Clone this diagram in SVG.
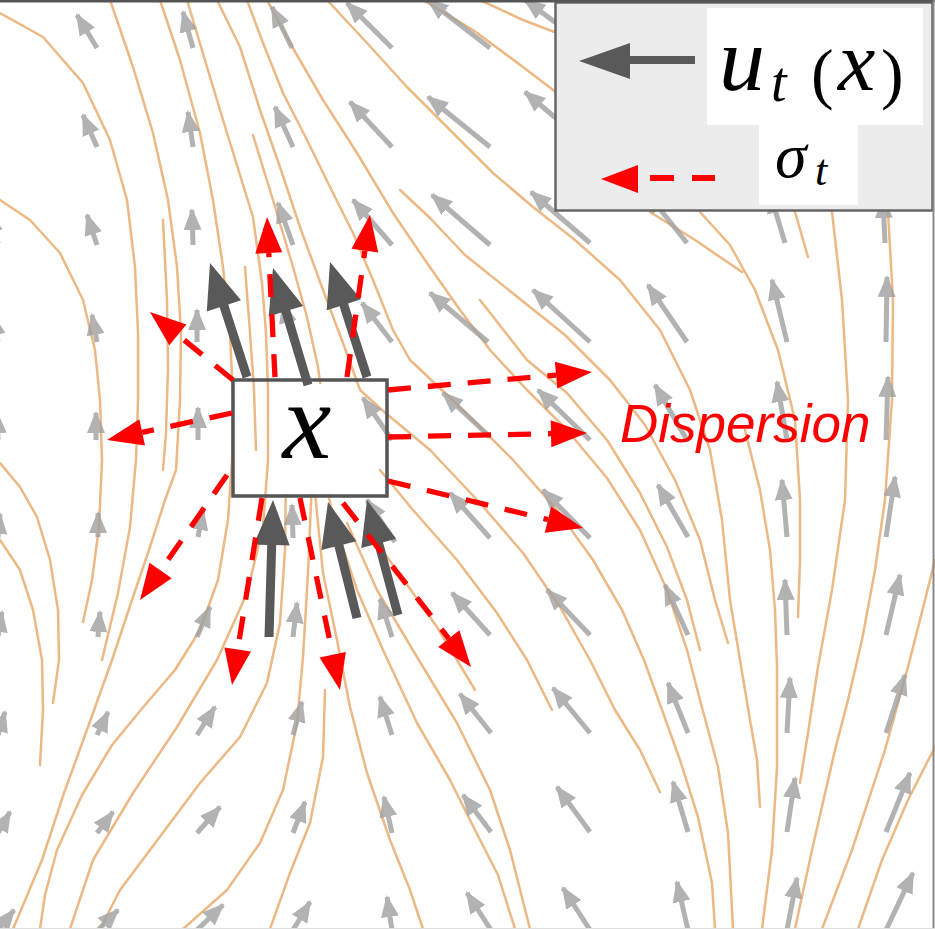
<svg xmlns="http://www.w3.org/2000/svg" width="935" height="929" viewBox="0 0 935 929">
<style>
.sl{fill:none;stroke:#ecb985;stroke-width:2.5;stroke-linejoin:round;stroke-linecap:round}
.q{stroke:#a0a0a0;stroke-width:5;marker-end:url(#qh)}
.rd{fill:none;stroke:#ff0000;stroke-width:5.3;stroke-dasharray:23 17}
.rh{fill:#ff0000}
.dk{fill:#595959}
.mth{font-family:"Liberation Serif","DejaVu Serif",serif;fill:#000}
</style>
<defs>
<marker id="qh" viewBox="0 -10 22 20" refX="20" refY="0" markerWidth="22" markerHeight="20" markerUnits="userSpaceOnUse" orient="auto">
<path d="M0,-9 L22,0 L0,9 Z" fill="#a0a0a0"/>
</marker>
</defs>
<rect x="0" y="0" width="935" height="929" fill="#ffffff"/>

<g id="streamlines" class="sl">
<polyline points="0,13 43,37 83,83 110,140 127,200 135,267 138,333 138,400 136,460 130,527 118,593 102,660"/>
<polyline points="0,200 30,220 60,253 83,300 95,350 100,400 102,460 99,527 92,580 83,622"/>
<polyline points="110,0 133,67 153,133 168,200 177,267 181,333 180,400 176,470 165,500 150,547 132,600 112,660 88,727 64,793 42,860 13,929"/>
<polyline points="163,220 167,300 168,367 166,433 163,470"/>
<polyline points="160,0 180,60 200,133 213,200 223,267 230,333 233,400 232,460 228,520 218,580 200,630 175,670 145,705 112,745 82,795 57,850 45,895 40,929"/>
<polyline points="187,0 207,67 227,133 240,175 253,217 262,283 266,333 268,390 268,460 263,527 247,593 217,660 177,727 133,793 93,860 70,929"/>
<polyline points="286,470 285,550 280,623 267,683 240,737 200,783 150,850 120,890 100,929"/>
<polyline points="0,463 20,487 37,517 50,560 58,610 59,660 53,703"/>
<polyline points="0,540 20,570 33,610 42,660 43,710 40,765"/>
<polyline points="245,267 250,333 254,390 256,450"/>
<polyline points="217,0 240,47 260,110 280,167 300,227 323,290 343,343 360,390 382,410 430,450 480,503 523,553 560,607 590,660 615,710 640,750 660,792"/>
<polyline points="253,135 273,200 293,267 307,317 318,367 325,420 327,490 337,530 357,590 383,650 417,723 450,780 475,830 498,875 515,929"/>
<polyline points="247,0 263,43 283,93 307,140 330,187 353,233 373,280 393,330 410,360 463,410 513,460 557,510 593,560 622,610 644,660 662,710 680,760 698,817 712,883 715,929"/>
<polyline points="267,0 290,43 323,100 357,153 393,213 427,263 460,310 490,350 527,390 567,430 607,478 640,530 667,590 687,650 700,700 718,767 728,833 733,929"/>
<polyline points="327,0 367,43 407,87 447,127 493,173 533,207 575,240 620,280 660,330 690,390 710,450 722,520 730,600 740,660 750,720 757,760 760,807"/>
<polyline points="400,190 430,218 465,255 515,295 565,335 610,380 645,425 675,480 700,540 715,600 728,643"/>
<polyline points="480,300 527,360 567,393 607,440 640,493 667,547 687,600 700,650"/>
<polyline points="700,212 730,245 755,290 778,350 795,420 800,500 800,560 798,617"/>
<polyline points="650,212 695,240 742,272"/>
<polyline points="795,212 808,257"/>
<polyline points="832,212 842,300 848,400 845,500 832,590 818,667 808,733 800,783"/>
<polyline points="888,212 893,300 892,400 885,500 875,570 862,640 848,700 835,750 812,850 795,929"/>
<polyline points="935,560 925,600 908,667 885,750 852,850 822,929"/>
<polyline points="935,747 908,800 882,860 858,929"/>
<polyline points="745,430 760,490 770,550 775,610 777,667 777,767 772,850 762,929"/>
<polyline points="312,480 308,573 303,657 297,723 283,790 260,843 227,890 183,929"/>
<polyline points="325,690 323,757 310,823 290,873 270,929"/>
<polyline points="314,480 316,503 323,573 337,640 350,707 367,773 390,840 410,890 423,929"/>
<polyline points="347,523 377,590 417,657 457,723 490,790 510,850 530,929"/>
<polyline points="380,547 413,593 437,627 457,660 475,690"/>
<polyline points="380,470 413,510 457,560 497,613 527,660 552,710"/>
<polyline points="423,0 473,30 523,67 557,93"/>
<polyline points="480,0 523,20 557,33"/>
</g>

<g id="quiver" opacity="0.8">
<line class="q" x1="97" y1="48" x2="77" y2="15"/>
<line class="q" x1="193" y1="48" x2="183" y2="12"/>
<line class="q" x1="292" y1="48" x2="272" y2="7"/>
<line class="q" x1="392" y1="48" x2="347" y2="3"/>
<line class="q" x1="490" y1="48" x2="428" y2="0"/>
<line class="q" x1="590" y1="48" x2="525" y2="0"/>
<line class="q" x1="97" y1="147" x2="83" y2="115"/>
<line class="q" x1="193" y1="147" x2="188" y2="112"/>
<line class="q" x1="293" y1="147" x2="275" y2="107"/>
<line class="q" x1="392" y1="147" x2="350" y2="102"/>
<line class="q" x1="490" y1="147" x2="428" y2="97"/>
<line class="q" x1="590" y1="147" x2="525" y2="92"/>
<line class="q" x1="-2" y1="243" x2="-12" y2="213"/>
<line class="q" x1="97" y1="245" x2="87" y2="215"/>
<line class="q" x1="193" y1="245" x2="192" y2="210"/>
<line class="q" x1="293" y1="245" x2="278" y2="203"/>
<line class="q" x1="392" y1="245" x2="353" y2="200"/>
<line class="q" x1="490" y1="245" x2="432" y2="195"/>
<line class="q" x1="590" y1="243" x2="531" y2="192"/>
<line class="q" x1="687" y1="243" x2="647" y2="193"/>
<line class="q" x1="785" y1="243" x2="770" y2="193"/>
<line class="q" x1="885" y1="243" x2="883" y2="198"/>
<line class="q" x1="-2" y1="342" x2="-7" y2="315"/>
<line class="q" x1="97" y1="342" x2="92" y2="315"/>
<line class="q" x1="197" y1="342" x2="197" y2="310"/>
<line class="q" x1="293" y1="342" x2="283" y2="303"/>
<line class="q" x1="392" y1="342" x2="362" y2="303"/>
<line class="q" x1="488" y1="342" x2="430" y2="293"/>
<line class="q" x1="590" y1="342" x2="533" y2="290"/>
<line class="q" x1="687" y1="342" x2="648" y2="285"/>
<line class="q" x1="787" y1="342" x2="772" y2="280"/>
<line class="q" x1="886" y1="342" x2="887" y2="277"/>
<line class="q" x1="-2" y1="440" x2="-3" y2="413"/>
<line class="q" x1="96" y1="440" x2="96" y2="413"/>
<line class="q" x1="198" y1="440" x2="198" y2="408"/>
<line class="q" x1="293" y1="440" x2="288" y2="403"/>
<line class="q" x1="392" y1="440" x2="363" y2="398"/>
<line class="q" x1="490" y1="437" x2="443" y2="393"/>
<line class="q" x1="590" y1="440" x2="538" y2="390"/>
<line class="q" x1="687" y1="440" x2="655" y2="385"/>
<line class="q" x1="787" y1="440" x2="777" y2="382"/>
<line class="q" x1="886" y1="440" x2="888" y2="377"/>
<line class="q" x1="-2" y1="538" x2="0" y2="514"/>
<line class="q" x1="98" y1="537" x2="98" y2="513"/>
<line class="q" x1="198" y1="537" x2="203" y2="510"/>
<line class="q" x1="293" y1="538" x2="292" y2="505"/>
<line class="q" x1="395" y1="542" x2="367" y2="500"/>
<line class="q" x1="490" y1="538" x2="450" y2="493"/>
<line class="q" x1="590" y1="538" x2="543" y2="490"/>
<line class="q" x1="688" y1="537" x2="658" y2="485"/>
<line class="q" x1="787" y1="537" x2="782" y2="480"/>
<line class="q" x1="886" y1="537" x2="895" y2="477"/>
<line class="q" x1="-2" y1="636" x2="2" y2="612"/>
<line class="q" x1="98" y1="637" x2="100" y2="612"/>
<line class="q" x1="197" y1="637" x2="210" y2="607"/>
<line class="q" x1="293" y1="637" x2="297" y2="603"/>
<line class="q" x1="392" y1="637" x2="380" y2="599"/>
<line class="q" x1="490" y1="635" x2="452" y2="593"/>
<line class="q" x1="590" y1="635" x2="547" y2="590"/>
<line class="q" x1="688" y1="635" x2="665" y2="585"/>
<line class="q" x1="787" y1="635" x2="785" y2="580"/>
<line class="q" x1="886" y1="635" x2="900" y2="575"/>
<line class="q" x1="-2" y1="735" x2="5" y2="712"/>
<line class="q" x1="97" y1="735" x2="108" y2="712"/>
<line class="q" x1="197" y1="735" x2="215" y2="707"/>
<line class="q" x1="293" y1="735" x2="302" y2="702"/>
<line class="q" x1="392" y1="735" x2="380" y2="697"/>
<line class="q" x1="491" y1="733" x2="460" y2="694"/>
<line class="q" x1="590" y1="733" x2="553" y2="688"/>
<line class="q" x1="688" y1="733" x2="668" y2="683"/>
<line class="q" x1="787" y1="733" x2="790" y2="678"/>
<line class="q" x1="886" y1="733" x2="905" y2="675"/>
<line class="q" x1="-2" y1="833" x2="10" y2="812"/>
<line class="q" x1="97" y1="833" x2="113" y2="812"/>
<line class="q" x1="197" y1="833" x2="220" y2="807"/>
<line class="q" x1="293" y1="833" x2="305" y2="802"/>
<line class="q" x1="392" y1="833" x2="384" y2="797"/>
<line class="q" x1="491" y1="832" x2="463" y2="795"/>
<line class="q" x1="590" y1="832" x2="557" y2="787"/>
<line class="q" x1="688" y1="832" x2="673" y2="782"/>
<line class="q" x1="787" y1="832" x2="795" y2="778"/>
<line class="q" x1="886" y1="832" x2="910" y2="773"/>
<line class="q" x1="-2" y1="930" x2="14" y2="910"/>
<line class="q" x1="98" y1="930" x2="118" y2="910"/>
<line class="q" x1="197" y1="930" x2="223" y2="905"/>
<line class="q" x1="293" y1="930" x2="310" y2="902"/>
<line class="q" x1="392" y1="930" x2="387" y2="897"/>
<line class="q" x1="491" y1="930" x2="467" y2="893"/>
<line class="q" x1="590" y1="930" x2="563" y2="888"/>
<line class="q" x1="688" y1="930" x2="677" y2="882"/>
<line class="q" x1="787" y1="930" x2="797" y2="878"/>
<line class="q" x1="886" y1="930" x2="913" y2="873"/>
</g>

<g id="node-x">
<rect x="273" y="384" width="74" height="110" fill="#ffffff"/>
<rect x="233" y="380" width="154" height="116" fill="none" stroke="#555555" stroke-width="3.5"/>
<text class="mth" x="307" y="458" font-size="110" font-style="italic" text-anchor="middle">x</text>
</g>

<g id="connectors">
<g id="drift-arrows" class="dk">
<polygon points="251.3,375.6 228.2,304.4 241.0,300.2 210,263 206.8,311.4 219.6,307.2 242.7,378.4"/>
<polygon points="312.3,383.7 290.2,309.8 303.2,305.9 273,268 268.7,316.3 281.6,312.4 303.7,386.3"/>
<polygon points="371.3,375.6 348.1,303.4 360.9,299.3 330,262 326.7,310.3 339.5,306.2 362.7,378.4"/>
<polygon points="273.5,637.1 276.2,545.1 289.7,545.5 273,500 253.7,544.5 267.2,544.9 264.5,636.9"/>
<polygon points="361.4,616.9 343.3,544.6 356.4,541.3 328,502 321.4,550.0 334.5,546.8 352.6,619.1"/>
<polygon points="402.3,613.8 383.0,542.2 396.1,538.7 367,500 361.3,548.1 374.4,544.6 393.7,616.2"/>
</g>
<g id="dispersion-arrows">
<line class="rd" x1="233" y1="380" x2="177.8" y2="334.8"/>
<polygon class="rh" points="150,312 186.4,324.4 169.3,345.2"/>
<line class="rd" x1="275" y1="377" x2="268.8" y2="253"/>
<polygon class="rh" points="267,217 282.3,252.3 255.3,253.7"/>
<line class="rd" x1="347" y1="377" x2="364.9" y2="250.6"/>
<polygon class="rh" points="370,215 378.3,252.5 351.5,248.7"/>
<line class="rd" x1="232" y1="413" x2="142.2" y2="432.4"/>
<polygon class="rh" points="107,440 145.0,445.6 139.4,419.2"/>
<line class="rd" x1="388" y1="390" x2="556.1" y2="375.2"/>
<polygon class="rh" points="592,372 557.3,388.6 554.9,361.8"/>
<line class="rd" x1="388" y1="437" x2="551" y2="433.7"/>
<polygon class="rh" points="587,433 551.3,447.2 550.7,420.2"/>
<line class="rd" x1="388" y1="481" x2="548" y2="519.6"/>
<polygon class="rh" points="583,528 544.8,532.7 551.2,506.5"/>
<line class="rd" x1="227" y1="475" x2="160.6" y2="570.5"/>
<polygon class="rh" points="140,600 149.5,562.8 171.7,578.2"/>
<line class="rd" x1="262" y1="498" x2="237.7" y2="649.5"/>
<polygon class="rh" points="232,685 224.4,647.4 251.0,651.6"/>
<line class="rd" x1="300" y1="498" x2="332.7" y2="654.8"/>
<polygon class="rh" points="340,690 319.5,657.6 345.9,652.1"/>
<line class="rd" x1="343" y1="503" x2="448.8" y2="638.6"/>
<polygon class="rh" points="471,667 438.2,646.9 459.4,630.3"/>
</g>
</g>

<text id="label-dispersion" x="620" y="442" font-family="Liberation Sans, Arial, sans-serif" font-style="italic" font-size="53" fill="#ff0000">Dispersion</text>

<g id="legend">
<rect x="555.5" y="2.5" width="377" height="208" fill="#ececec" stroke="#666666" stroke-width="2.5"/>
<rect x="707" y="8" width="216" height="117" fill="#ffffff"/>
<rect x="759" y="125" width="99" height="80" fill="#ffffff"/>
<polygon class="dk" points="695,56 630,56 630,43 579,61 630,79 630,64 695,64"/>
<rect x="650" y="175" width="24" height="6" fill="#ff0000"/>
<rect x="692" y="175" width="23" height="6" fill="#ff0000"/>
<polygon class="rh" points="601,179 638,165 638,193"/>
<text class="mth"><tspan x="719" y="90" font-size="92" font-style="italic">u</tspan><tspan x="771" y="101" font-size="56" font-style="italic">t</tspan><tspan x="811" y="96" font-size="68">(</tspan><tspan x="838" y="90" font-size="84" font-style="italic">x</tspan><tspan x="881" y="96" font-size="68">)</tspan></text>
<text class="mth" font-style="italic"><tspan x="775" y="177" font-size="64">σ</tspan><tspan x="815" y="185" font-size="44">t</tspan></text>
</g>

<g id="frame">
<line x1="0" y1="1" x2="935" y2="1" stroke="#555555" stroke-width="3"/>
<line x1="933.5" y1="0" x2="933.5" y2="929" stroke="#888888" stroke-width="2"/>
<line x1="0" y1="928.5" x2="935" y2="928.5" stroke="#dddddd" stroke-width="1"/>
</g>
</svg>
